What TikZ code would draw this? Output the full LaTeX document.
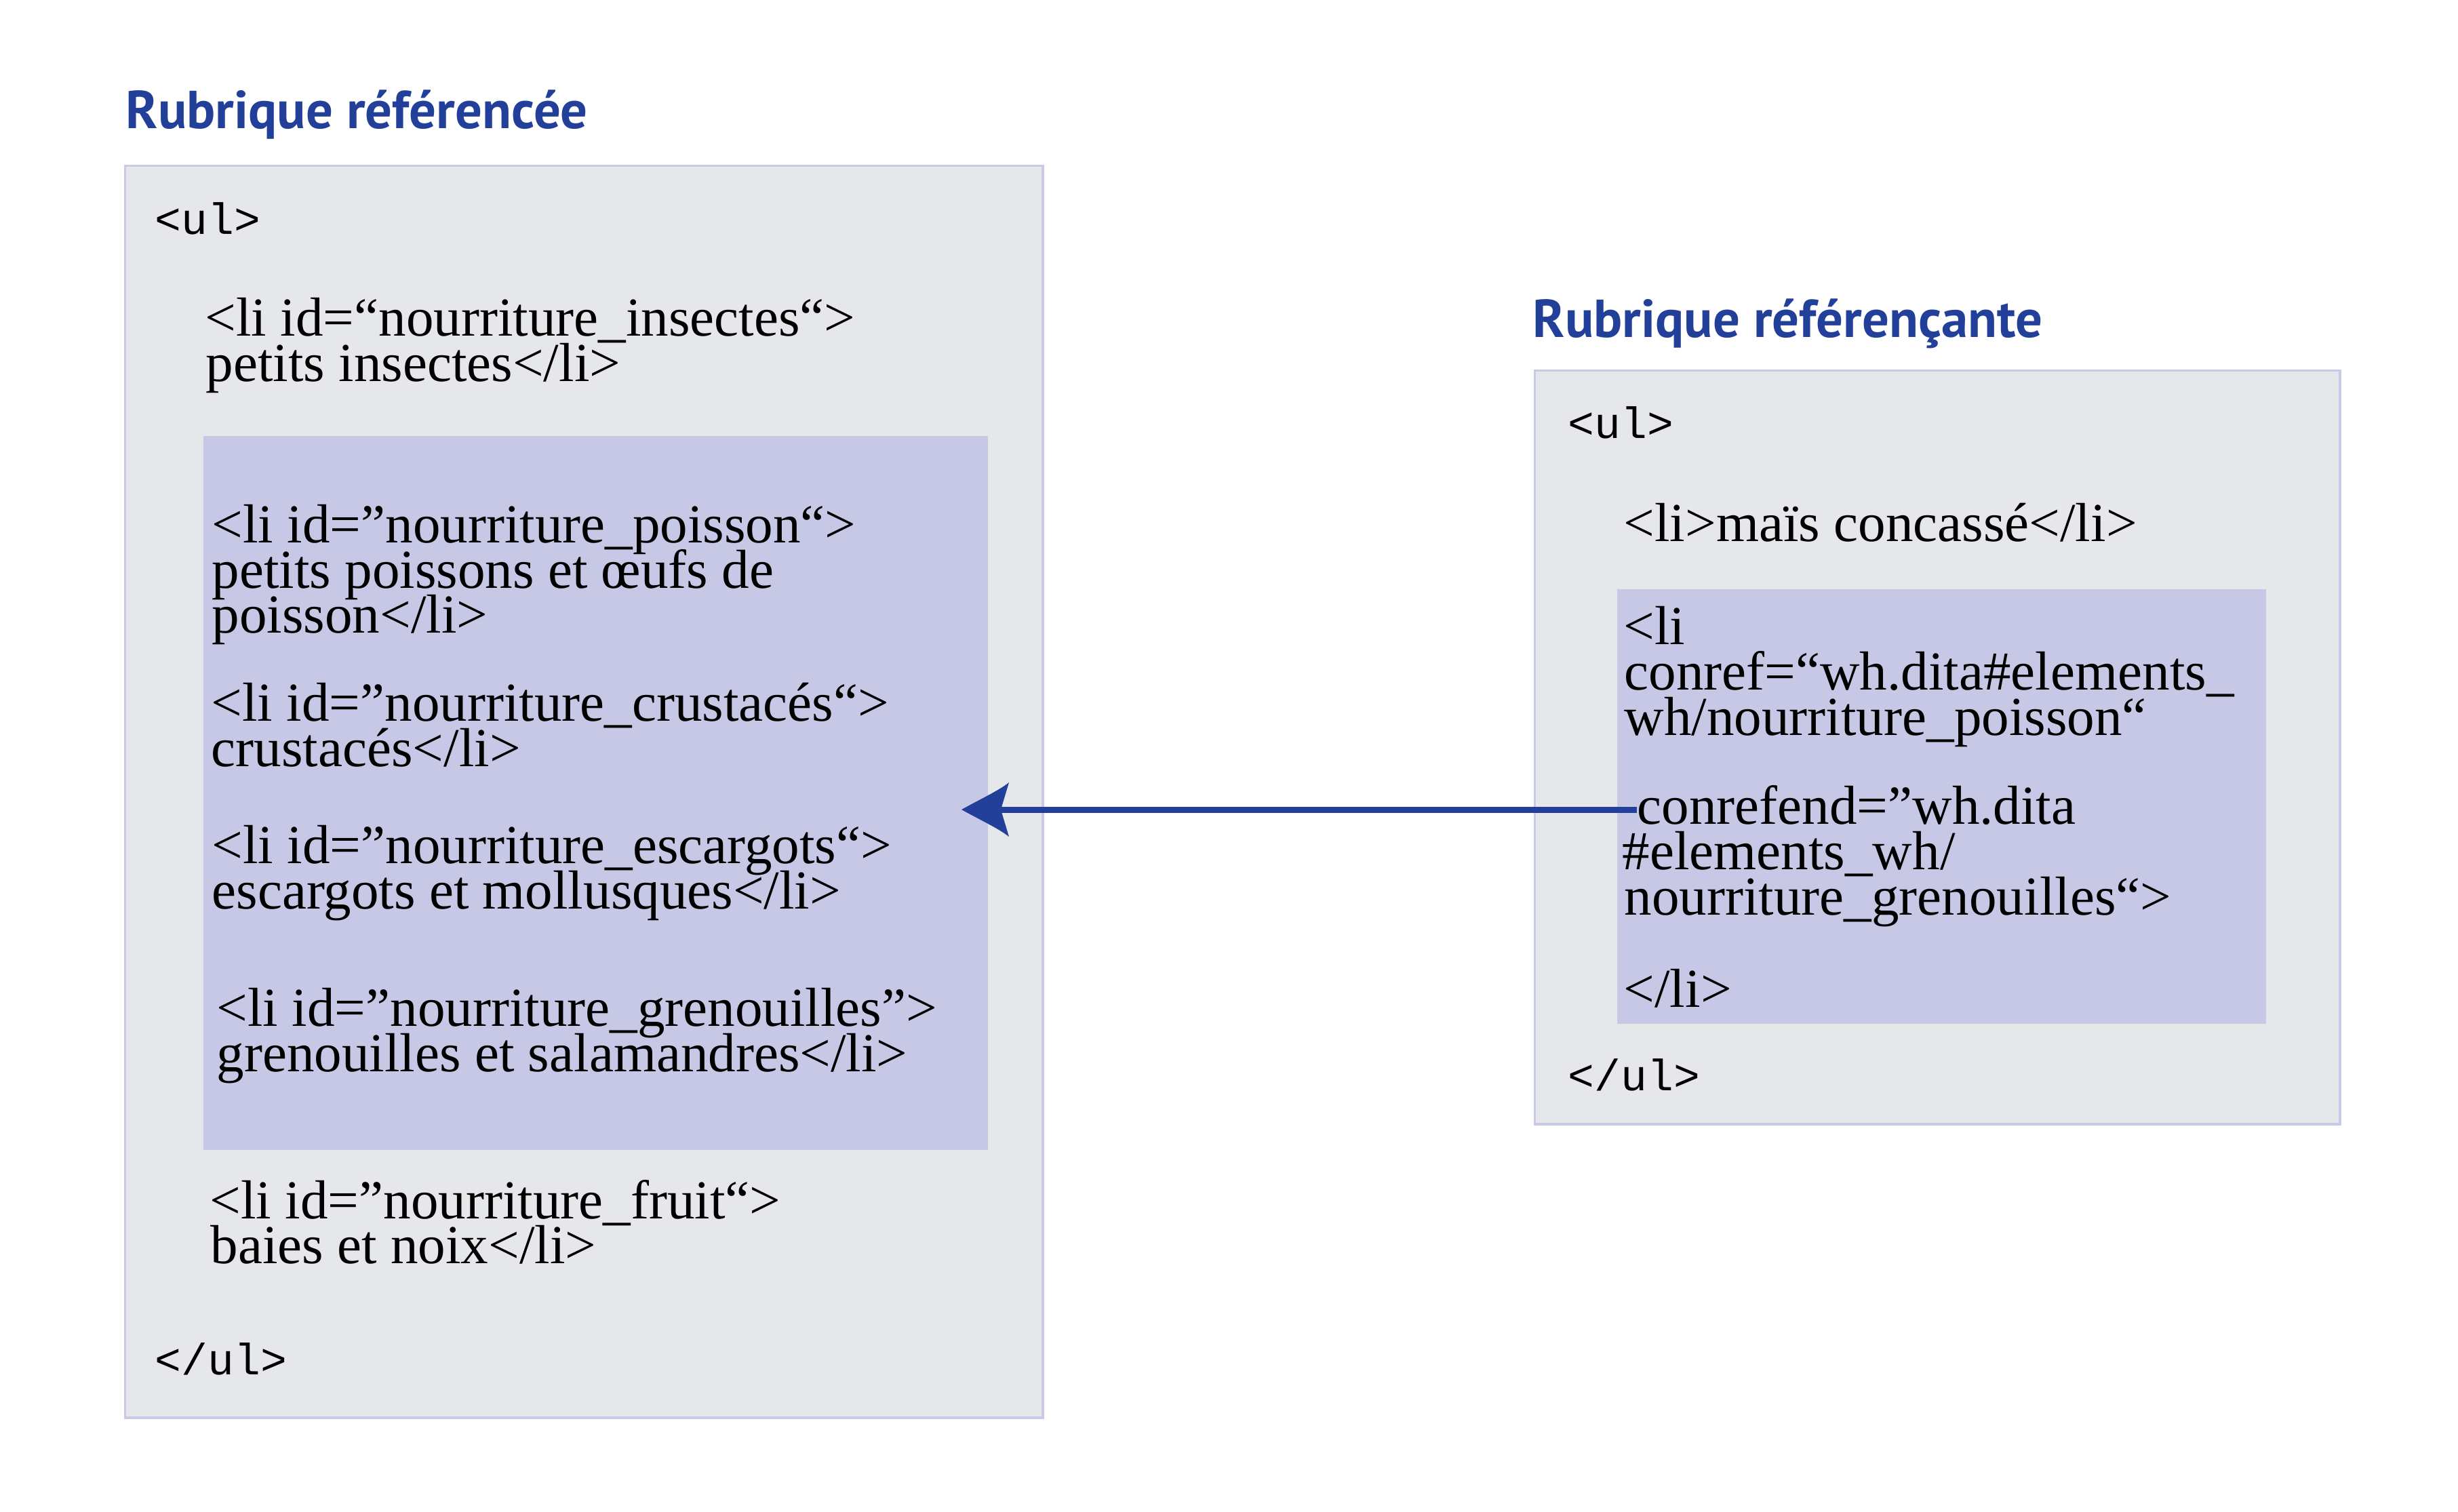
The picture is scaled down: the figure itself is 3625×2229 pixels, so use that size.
\documentclass[tikz,border=0pt]{standalone}
\usepackage{fontspec}
\setmainfont{Liberation Serif}
\setmonofont{Liberation Mono}
\newfontfamily\ttlfont{PT Sans}
\usetikzlibrary{calc}
\definecolor{ttlblue}{HTML}{22409A}
\definecolor{boxgray}{HTML}{E6E7EA}
\definecolor{boxedge}{HTML}{C9CAE6}
\definecolor{lav}{HTML}{C7C8E6}
\newcommand\srfsz{\fontsize{23.05pt}{19pt}\selectfont}
\newcommand\mnsz{\fontsize{18.4pt}{20pt}\selectfont\ttfamily}
\newcommand\ttlsz{\fontsize{22.4pt}{24pt}\selectfont\ttlfont\bfseries}
\begin{document}
\begin{tikzpicture}[x=0.01cm,y=-0.01cm,
  outerbox/.style={draw=boxedge,fill=boxgray,line width=0.035cm},
  innerbox/.style={fill=lav},
  code/.style={font=\srfsz,anchor=base west,inner sep=0pt},
  mono/.style={font=\mnsz,anchor=base west,inner sep=0pt},
  ttl/.style={font=\ttlsz,text=ttlblue,anchor=base west,inner sep=0pt},
  arrline/.style={draw=ttlblue,line width=0.09cm}]
\useasboundingbox (0,0) rectangle (3625,2229);
\fill[white] (0,0) rectangle (3625,2229);

% titles
\node[ttl] (t1) at (185,189) {Rubrique référencée};
\node[ttl] (t2) at (2260,497) {Rubrique référençante};

% boxes
\path[outerbox] (184.5,244.5) rectangle (1538,2091);
\path[innerbox] (300,643) rectangle (1457,1696);
\path[outerbox] (2263.5,546.5) rectangle (3451,1658);
\path[innerbox] (2385,869) rectangle (3342,1510);

% left code
\node[mono] (l0) at (228,345) {<ul>};
\node[code] (l1a) at (302,495) {<li id=“nourriture\_insectes“>};
\node[code] (l1b) at (303,562) {petits insectes</li>};
\node[code] (l2a) at (312,800) {<li id=”nourriture\_poisson“>};
\node[code] (l2b) at (312,867) {petits poissons et œufs de};
\node[code] (l2c) at (312,933) {poisson</li>};
\node[code] (l3a) at (311,1063) {<li id=”nourriture\_crustacés“>};
\node[code] (l3b) at (311,1130) {crustacés</li>};
\node[code] (l4a) at (312,1273) {<li id=”nourriture\_escargots“>};
\node[code] (l4b) at (312,1340) {escargots et mollusques</li>};
\node[code] (l5a) at (319,1513) {<li id=”nourriture\_grenouilles”>};
\node[code] (l5b) at (319,1580) {grenouilles et salamandres</li>};
\node[code] (l6a) at (309,1797) {<li id=”nourriture\_fruit“>};
\node[code] (l6b) at (310,1863) {baies et noix</li>};
\node[mono] (l7) at (228,2027) {</ul>};

% right code
\node[mono] (r0) at (2312,646) {<ul>};
\node[code] (r1) at (2394,798) {<li>maïs concassé</li>};
\node[code] (r2a) at (2394,950) {<li};
\node[code] (r2b) at (2395,1017) {conref=“wh.dita\#elements\_};
\node[code] (r2c) at (2395,1084) {wh/nourriture\_poisson“};
\node[code] (r2d) at (2414,1215) {conrefend=”wh.dita};
\node[code] (r2e) at (2392,1282) {\#elements\_wh/};
\node[code] (r2f) at (2395,1349) {nourriture\_grenouilles“>};
\node[code] (r2g) at (2394,1485) {</li>};
\node[mono] (r3) at (2312,1608) {</ul>};

% arrow
\coordinate (tail) at (2414,1194);
\coordinate (tip) at (1418,1194);
\draw[arrline] (tail) -- ($(tip)+(40,0)$);
\begin{scope}[shift={(tip)}]
\fill[ttlblue] (0,0) .. controls (25,-14) and (55,-28) .. (70,-40) -- (58,0) -- (70,40) .. controls (55,28) and (25,14) .. (0,0) -- cycle;
\end{scope}
\end{tikzpicture}
\end{document}
